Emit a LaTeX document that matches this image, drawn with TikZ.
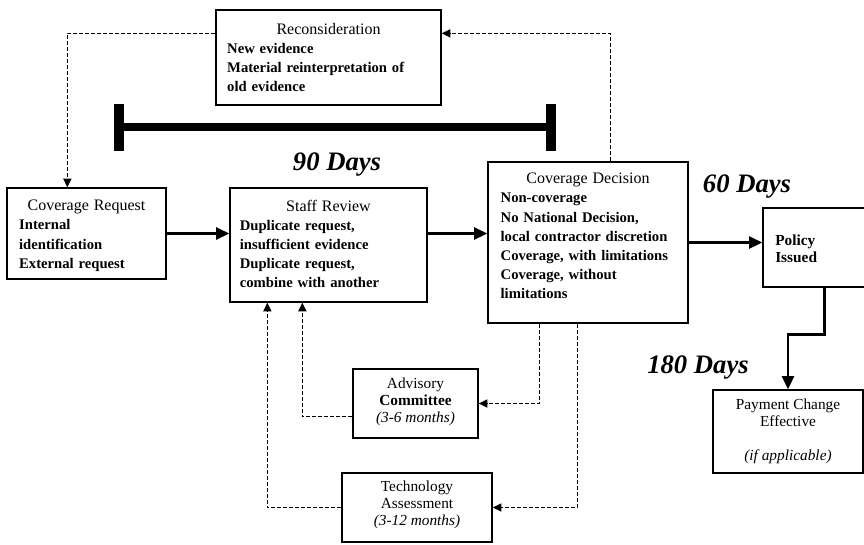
\documentclass[tikz,border=0pt]{standalone}
\usepackage{fontspec}
\setmainfont{Liberation Serif}
\usetikzlibrary{fit,calc,arrows.meta}
\newcommand\ttlfont{\fontsize{12}{14.3}\selectfont\mdseries}
\begin{document}
\begin{tikzpicture}[x=0.75pt,y=-0.75pt,
  box/.style={draw, line width=1pt, inner sep=0pt},
  body/.style={inner sep=0pt, anchor=north, align=left, font=\fontsize{11}{14.3}\selectfont\bfseries,
    execute at begin node={\hyphenpenalty=10000\exhyphenpenalty=10000}},
  small/.style={inner sep=0pt, anchor=north, align=center, font=\fontsize{11.5}{12.75}\selectfont},
  solidarrow/.style={line width=2.2pt, -{Triangle[length=10pt,width=9pt]}},
  dasharrow/.style={line width=1.1pt, dash pattern=on 3pt off 1.5pt, -{Triangle[length=6.5pt,width=6pt]}},
  days/.style={inner sep=0pt, font=\fontsize{20}{24}\selectfont\bfseries\itshape},
  bar/.style={line width=6pt},
  barcap/.style={line width=7pt}]
\clip (0,0) rectangle (864,544);
\fill[white] (0,0) rectangle (864,544);

% boxes
\node[box, fit={(216,10)(441,105)}] (recon) {};
\node[box, fit={(7,188)(166,279)}] (cr) {};
\node[box, fit={(230,188)(427,302)}] (sr) {};
\node[box, fit={(488,162)(688,323)}] (cd) {};
\node[box, fit={(763,208)(900,287)}] (pi) {};
\node[box, fit={(713,390)(863,473)}] (pay) {};
\node[box, fit={(353,369)(478,438)}] (adv) {};
\node[box, fit={(342,473)(492,542)}] (ta) {};

% texts
\node[body, text width=152pt] (recontext) at (328.5,23)
  {{\centering\ttlfont Reconsideration\par}New evidence\\Material reinterpretation of\\old evidence};
\node[body, text width=101pt] (crtext) at (86.5,200)
  {{\centering\ttlfont Coverage Request\par}Internal\\identification\\External request};
\node[body, text width=133pt] (srtext) at (328.5,200)
  {{\centering\ttlfont Staff Review\par}Duplicate request,\\insufficient evidence\\Duplicate request,\\combine with another};
\node[body, text width=131pt] (cdtext) at (588,173)
  {{\centering\ttlfont Coverage Decision\par}Non-coverage\\No National Decision,\\local contractor discretion\\Coverage, with limitations\\Coverage, without\\limitations};
\node[body, anchor=north west, font=\fontsize{11.5}{12.75}\selectfont\bfseries] (pitext) at (775,235) {Policy\\Issued};
\node[small] (paytext) at (788,399) {Payment Change\\Effective\\[12.75pt]\textit{(if applicable)}};
\node[small] (advtext) at (415.5,378) {Advisory\\\textbf{Committee}\\\textit{(3-6 months)}};
\node[small] (tatext) at (417,481) {Technology\\Assessment\\\textit{(3-12 months)}};

% day labels
\node[days] (d90) at (337,165) {90 Days};
\node[days] (d60) at (747,187) {60 Days};
\node[days] (d180) at (698,368) {180 Days};

% 90-day bar
\coordinate (barL) at (119,127);
\coordinate (barR) at (551,127);
\draw[bar] (barL) -- (barR);
\draw[barcap] ($(barL)+(0,-23)$) -- ($(barL)+(0,24)$);
\draw[barcap] ($(barR)+(0,-23)$) -- ($(barR)+(0,24)$);

% solid connectors
\draw[solidarrow] (cr.east) -- (cr.east -| sr.west);
\draw[solidarrow] (sr.east |- cr.east) -- (cd.west |- cr.east);
\draw[solidarrow] (cd.east) -- (cd.east -| pi.west);
\coordinate (pidrop) at ($(pi.south west)+(62,0)$);
\draw[solidarrow] (pidrop) -- ++(0,47) -| (pay.north);

% dashed connectors
\coordinate (reconL) at ($(recon.north west)+(0,24)$);
\coordinate (crIn) at ($(cr.north west)+(61,0)$);
\draw[dasharrow] (reconL) -| (crIn);
\coordinate (cdTop) at ($(cd.north west)+(123,0)$);
\coordinate (reconR) at ($(recon.north east)+(0,24)$);
\draw[dasharrow] (cdTop) |- (reconR);
\coordinate (cdB1) at ($(cd.south west)+(52,0)$);
\coordinate (cdB2) at ($(cd.south west)+(90,0)$);
\draw[dasharrow] (cdB1) |- (adv.east);
\draw[dasharrow] (cdB2) |- (ta.east);
\coordinate (advOut) at ($(adv.west)+(0,13)$);
\coordinate (srIn1) at ($(sr.south west)+(73,0)$);
\coordinate (srIn2) at ($(sr.south west)+(38,0)$);
\draw[dasharrow] (advOut) -| (srIn1);
\draw[dasharrow] (ta.west) -| (srIn2);
\end{tikzpicture}
\end{document}
